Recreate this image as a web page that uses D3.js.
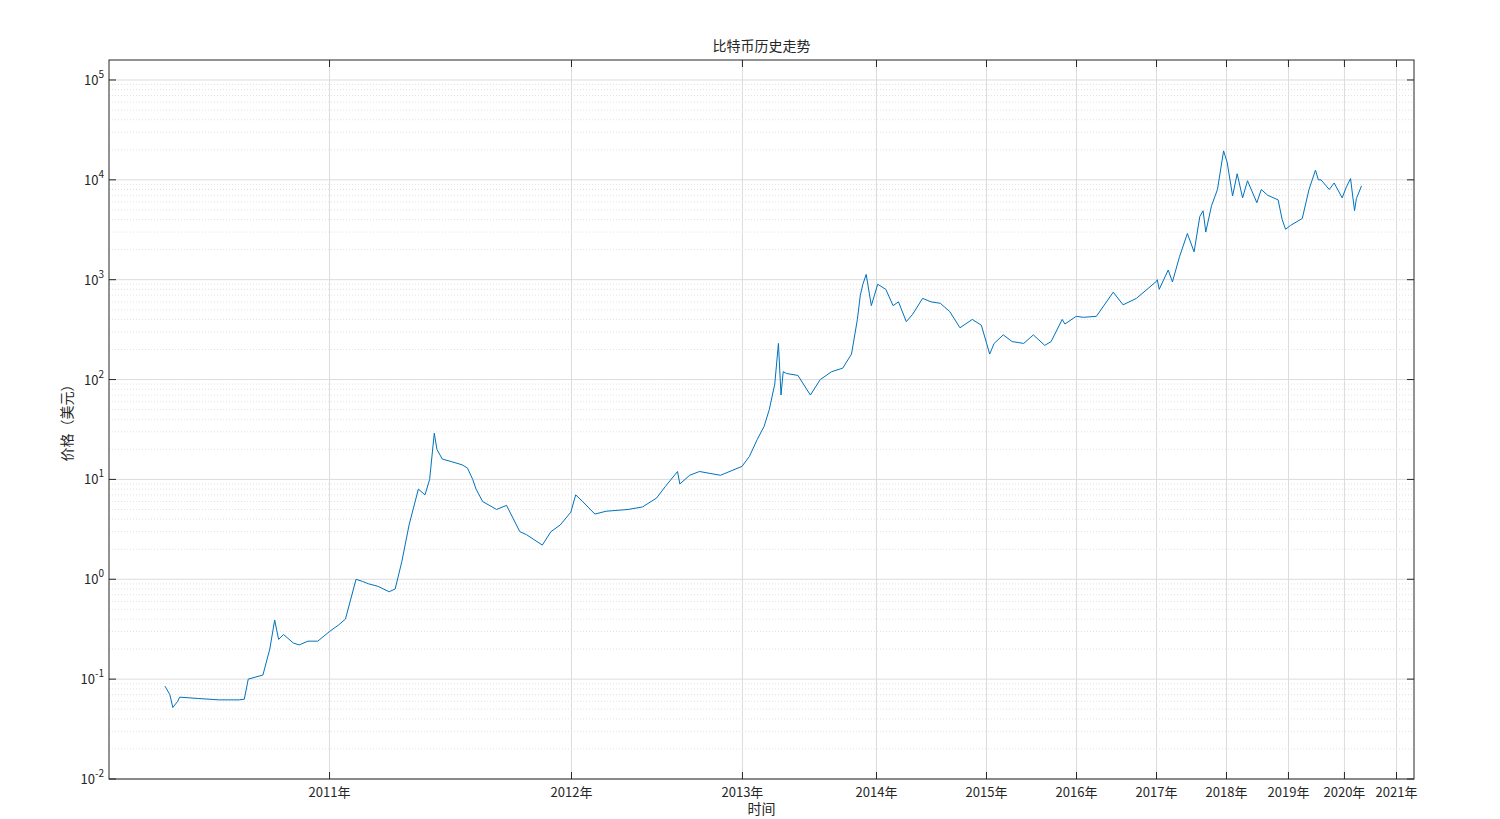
<!DOCTYPE html><html><head><meta charset="utf-8">
<script src="https://cdn.jsdelivr.net/npm/d3@7"></script>
<style>body{margin:0;background:#fff}text{font-family:"Noto Sans CJK SC","DejaVu Sans",sans-serif}</style></head>
<body><svg id="c" width="1500" height="819"></svg><script>
const years=["2011","2012","2013","2014","2015","2016","2017","2018","2019","2020","2021"];
const yearFrac=[0.1690,0.3544,0.4854,0.5881,0.6724,0.7414,0.8027,0.8563,0.9038,0.9467,0.9866];
const dates=["2010-07-17","2010-07-22","2010-07-25","2010-07-30","2010-08-01","2010-08-20","2010-09-10","2010-10-01","2010-10-06","2010-10-10","2010-10-25","2010-11-01","2010-11-06","2010-11-10","2010-11-15","2010-11-25","2010-12-01","2010-12-10","2010-12-20","2011-01-01","2011-01-15","2011-01-25","2011-02-10","2011-02-20","2011-03-01","2011-03-15","2011-04-01","2011-04-10","2011-04-20","2011-05-01","2011-05-15","2011-05-25","2011-06-01","2011-06-08","2011-06-12","2011-06-20","2011-07-05","2011-07-20","2011-07-28","2011-08-05","2011-08-10","2011-08-20","2011-09-10","2011-09-25","2011-10-15","2011-10-25","2011-11-18","2011-12-01","2011-12-15","2011-12-31","2012-01-10","2012-01-25","2012-02-20","2012-03-15","2012-05-01","2012-06-01","2012-07-01","2012-07-20","2012-08-15","2012-08-20","2012-09-10","2012-10-01","2012-11-15","2012-12-31","2013-01-20","2013-02-10","2013-03-01","2013-03-15","2013-03-30","2013-04-09","2013-04-16","2013-04-22","2013-05-01","2013-06-01","2013-07-05","2013-08-01","2013-09-01","2013-10-01","2013-10-25","2013-11-10","2013-11-18","2013-11-25","2013-12-04","2013-12-18","2014-01-05","2014-02-01","2014-02-25","2014-03-15","2014-04-10","2014-05-01","2014-06-03","2014-07-01","2014-08-01","2014-09-01","2014-10-05","2014-11-15","2014-12-15","2015-01-14","2015-02-01","2015-03-10","2015-04-15","2015-06-01","2015-07-10","2015-08-25","2015-09-20","2015-11-04","2015-11-15","2015-12-31","2016-02-01","2016-04-01","2016-06-17","2016-08-01","2016-10-01","2016-12-31","2017-01-05","2017-01-15","2017-03-03","2017-03-25","2017-05-01","2017-06-11","2017-07-16","2017-08-15","2017-09-01","2017-09-15","2017-10-15","2017-11-15","2017-12-17","2018-01-05","2018-02-06","2018-03-05","2018-04-06","2018-05-05","2018-06-29","2018-07-25","2018-09-01","2018-11-01","2018-11-25","2018-12-15","2019-01-15","2019-04-01","2019-05-15","2019-06-26","2019-07-15","2019-08-01","2019-09-24","2019-10-26","2019-12-17","2020-01-15","2020-02-13","2020-03-12","2020-03-25","2020-04-30"];
const prices=[0.085,0.07,0.052,0.06,0.066,0.064,0.062,0.062,0.063,0.1,0.11,0.2,0.39,0.25,0.28,0.23,0.22,0.24,0.24,0.3,0.35,0.4,1.0,0.95,0.9,0.85,0.75,0.8,1.5,3.5,8,7,10,29,20,16,15,14,13,10,8,6,5,5.5,3,2.8,2.2,3,3.5,4.7,7,6,4.5,4.8,5,5.3,6.5,8.5,12,9,11,12,11,13.5,17,25,34,50,90,230,70,120,115,110,70,100,120,130,180,400,700,900,1130,550,900,800,550,600,380,450,650,600,580,480,330,400,350,180,230,280,240,230,280,220,240,400,360,430,420,430,750,560,650,960,1000,800,1250,950,1700,2900,1900,4300,4900,3000,5500,8000,19500,15000,6900,11500,6600,9800,5900,8000,7000,6300,4000,3200,3500,4100,8000,12500,10000,10000,8000,9300,6600,8500,10300,4900,6500,8700];
const svg=d3.select("#c"),L=109,R=1414,T=60,B=779,W=R-L;
const yd=years.map(y=>new Date(+y,0,1));
const fd=[new Date(2010,0,1),...yd];
const fr=[-0.105,...yearFrac];
const x=d3.scaleTime().domain(fd).range(fr.map(f=>L+f*W));
const y=d3.scaleLog().domain([1e-2,Math.pow(10,5.2)]).range([B,T]);
const g=svg.append("g");
for(let e=-2;e<=5;e++){for(let m=1;m<10;m++){const v=m*Math.pow(10,e);if(v>Math.pow(10,5.2))break;
 g.append("line").attr("x1",L).attr("x2",R).attr("y1",y(v)).attr("y2",y(v)).attr("stroke",m==1?"#dcdcdc":"#e2e2e2").attr("stroke-dasharray",m==1?null:"1,2");}}
yd.forEach(d=>g.append("line").attr("x1",x(d)).attr("x2",x(d)).attr("y1",T).attr("y2",B).attr("stroke","#dcdcdc"));
const data=dates.map((d,i)=>({d:new Date(d),p:prices[i]}));
svg.append("path").datum(data).attr("d",d3.line().x(d=>x(d.d)).y(d=>y(d.p))).attr("fill","none").attr("stroke","#0072BD").attr("stroke-width",1);
svg.append("rect").attr("x",L).attr("y",T).attr("width",W).attr("height",B-T).attr("fill","none").attr("stroke","#262626");
yd.forEach((d,i)=>{svg.append("line").attr("x1",x(d)).attr("x2",x(d)).attr("y1",B).attr("y2",B-7).attr("stroke","#262626");
 svg.append("line").attr("x1",x(d)).attr("x2",x(d)).attr("y1",T).attr("y2",T+7).attr("stroke","#262626");
 svg.append("text").attr("x",x(d)).attr("y",B+18).attr("text-anchor","middle").attr("font-size",13).attr("fill","#262626").text(years[i]+"年");});
for(let e=-2;e<=5;e++){const yy=y(Math.pow(10,e));
 svg.append("line").attr("x1",L).attr("x2",L+7).attr("y1",yy).attr("y2",yy).attr("stroke","#262626");
 svg.append("line").attr("x1",R).attr("x2",R-7).attr("y1",yy).attr("y2",yy).attr("stroke","#262626");
 const t=svg.append("text").attr("x",L-5).attr("y",yy+5).attr("text-anchor","end").attr("font-size",13).attr("fill","#262626");
 t.append("tspan").text("10");t.append("tspan").attr("dy",-7).attr("font-size",10).text(e);}
svg.append("text").attr("x",(L+R)/2).attr("y",51).attr("text-anchor","middle").attr("font-size",14).attr("fill","#262626").text("比特币历史走势");
svg.append("text").attr("x",(L+R)/2).attr("y",814).attr("text-anchor","middle").attr("font-size",14).attr("fill","#262626").text("时间");
svg.append("text").attr("transform",`translate(72,${(T+B)/2}) rotate(-90)`).attr("text-anchor","middle").attr("font-size",14).attr("fill","#262626").text("价格（美元）");
</script></body></html>
